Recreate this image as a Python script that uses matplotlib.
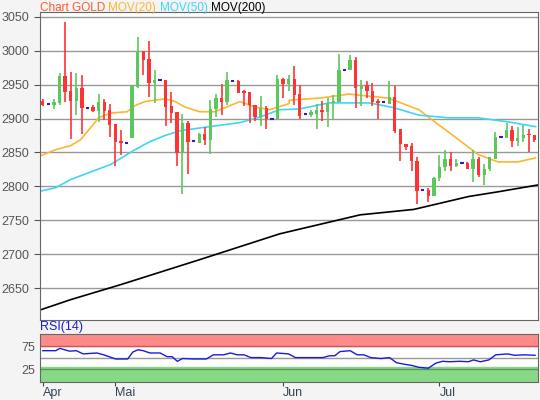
import matplotlib
matplotlib.use("Agg")
import matplotlib.pyplot as plt
import numpy as np

plt.rcParams['font.family'] = ['Liberation Sans', 'DejaVu Sans']

opens  = [2926,2921,2920,2923,2962,2941,2926,2945,2916,2917,2911,2925,2912,2892,2867,2864,2871,2946,3000,2988,2953,2957,2957,
          2918,2909,2849,2893,2867,2864,2877,2868,2914,2930,2924,2956,2956,2940,2939,2920,2902,2915,2900,2900,2958,2951,
          2958,2936,2906,2905,2907,2912,2909,2923,2925,2972,2971,2986,2944,2950,2941,2926,2925,2922,2932,2884,2863,2859,
          2838,2794,2794,2786,2813,2828,2840,2830,2834,2834,2825,2840,2816,2825,2841,2873,2872,2883,2867,2871,2877,2876]
highs  = [2929,2921,2929,2967,3042,2968,2967,2964,2916,2920,2936,2929,2921,2892,2883,2864,2949,3020,3000,3014,2971,2957,2957,
          2939,2909,2907,2896,2867,2878,2887,2928,2936,2951,2969,2956,2957,2942,2939,2920,2933,2918,2900,2964,2959,2964,
          2978,2950,2906,2913,2921,2926,2930,2934,2995,2972,2993,2990,2957,2955,2953,2929,2925,2955,2948,2884,2863,2864,
          2843,2794,2797,2814,2846,2853,2851,2841,2834,2836,2854,2844,2833,2844,2880,2873,2893,2889,2887,2890,2884,2876]
lows   = [2918,2921,2914,2920,2925,2870,2905,2877,2916,2909,2895,2898,2873,2830,2846,2864,2871,2945,2964,2932,2923,2957,2889,
          2894,2830,2788,2818,2867,2864,2861,2848,2902,2905,2920,2956,2938,2918,2893,2896,2889,2884,2900,2900,2930,2941,
          2920,2900,2906,2902,2884,2896,2887,2899,2924,2972,2971,2916,2918,2930,2918,2899,2925,2922,2879,2838,2854,2823,
          2774,2794,2777,2786,2808,2822,2823,2829,2834,2825,2807,2814,2802,2823,2841,2873,2872,2858,2859,2865,2851,2866]
closes = [2920,2921,2924,2962,2939,2926,2945,2916,2916,2911,2925,2911,2891,2865,2864,2864,2948,3000,2986,2953,2957,2957,2917,
          2908,2849,2893,2865,2867,2877,2868,2914,2930,2924,2957,2956,2938,2938,2920,2902,2915,2900,2900,2958,2951,2958,
          2934,2903,2906,2909,2912,2909,2923,2926,2972,2972,2986,2945,2950,2941,2925,2923,2925,2932,2882,2863,2858,2837,
          2793,2794,2786,2812,2828,2840,2830,2834,2834,2825,2840,2816,2826,2843,2873,2873,2883,2867,2871,2876,2876,2868]

month_pos = [0, 13, 43, 71]
month_labels = ["Apr", "Mai", "Jun", "Jul"]

ma20_x = [-0.4,2.3,5,6.8,8.5,10,12.1,15.1,16.5,18.3,21.9,23.7,25.4,28.1,30.8,33.5,35.3,37.9,40.6,44.1,44.1,49.5,54.8,61.9,67.3,70.8,74.4,77.9,81.5,85,88.2]
ma20_y = [2845,2854,2860,2869,2886,2901,2908,2910,2919,2925,2929,2925,2917,2910,2910,2919,2925,2917,2913,2922,2927,2930,2936,2930,2913,2891,2869,2847,2836,2836,2842]
ma50_x = [-0.4,2.3,5,8.5,12.1,16.5,19.2,21.9,24.6,28.1,35.3,38.8,42.4,45.9,51.2,58.4,62.8,67.3,72.6,77.9,83.3,88.2]
ma50_y = [2793,2798,2810,2821,2832,2854,2866,2875,2882,2886,2894,2902,2913,2914,2923,2923,2916,2905,2901,2901,2895,2888]
ma200_x = [-0.4,5,13.9,28.1,42.4,56.8,66.4,76.2,81.5,88.6]
ma200_y = [2618,2633,2655,2692,2730,2758,2766,2785,2792,2802]

rsi_zx = [122,160,172,200,220,240,280,300,335,370,385,400,415,435,465,485,500,515,530,560,600,620,650,670,690,710,730,760,790,805,
          840,860,900,940,960,975,990,1020,1040,1060,1080,1110,1135,1155,1175,1200,1220,1248,1270,1290,1310,1340,1365,1380,1400,1425,1445,1480,1500,1530,1560]
rsi_val = [65,65,70,64,65,58,60,56,47,47,62,67,65,60,60,52,52,42,48,47,47,56,56,60,56,56,50,50,48,60,
           58,50,50,50,54,54,63,65,56,56,50,48,50,39,36,33,29,27,38,42,41,42,41,45,41,45,56,58,55,56,55]

BG = "#f4f4f4"
fig = plt.figure(figsize=(5.4, 4.0), dpi=100, facecolor=BG)
ax = fig.add_axes([0.074, 0.2, 0.922, 0.77])
ax2 = fig.add_axes([0.074, 0.046, 0.922, 0.12])

n = len(opens)
o = np.array(opens); c = np.array(closes); h = np.array(highs); l = np.array(lows)
green, red, blue = "#5cc85c", "#ff3333", "#3a14c8"
for i in range(n):
    if o[i] == c[i] and h[i] == l[i]:
        ax.hlines(o[i], i - 0.3, i + 0.3, color=blue, lw=1.5, zorder=3)
        continue
    col = green if c[i] > o[i] else red
    ax.vlines(i, l[i], h[i], color=col, lw=1.2, zorder=3)
    lo, hi = min(o[i], c[i]), max(o[i], c[i])
    ax.bar(i, max(hi - lo, 1.0), bottom=lo, width=0.6, color=col, zorder=4, linewidth=0)

ax.plot(ma20_x, ma20_y, color="#ffb52e", lw=1.2, zorder=2)
ax.plot(ma50_x, ma50_y, color="#3ed6f5", lw=1.2, zorder=2)
ax.plot(ma200_x, ma200_y, color="black", lw=1.2, zorder=2)

ax.set_xlim(-0.5, 88.6)
ax.set_ylim(2603, 3057)
ax.set_yticks([2650, 2700, 2750, 2800, 2850, 2900, 2950, 3000, 3050])
ax.yaxis.grid(True, color="#999999", lw=1)
ax.set_axisbelow(True)
ax.set_xticks([])
ax.tick_params(axis="y", colors="#555555", labelsize=9, length=4)
for s in ax.spines.values():
    s.set_color("#666666")

fig.canvas.draw()
r = fig.canvas.get_renderer()
xpos = 0.074
for txt, col in [("Chart GOLD", "#ff5a2a"), ("MOV(20)", "#ffb52e"), ("MOV(50)", "#3ed6f5"), ("MOV(200)", "black")]:
    t = fig.text(xpos, 0.996, txt, color=col, fontsize=8.5, va="top")
    bb = t.get_window_extent(renderer=r)
    xpos += bb.width / fig.bbox.width + 0.006

rx = [(zx / 2.904 - 42) / 5.62 for zx in rsi_zx]
ax2.axhspan(75, 102, color="#ff8a8a", zorder=0)
ax2.axhspan(-2, 30, color="#88d888", zorder=0)
for yv, cl in [(75, "#cc5555"), (50, "#999999"), (25, "#559955")]:
    ax2.axhline(yv, color=cl, lw=1, zorder=1)
ax2.plot(rx, rsi_val, color="#1a1ae0", lw=1, zorder=2)
ax2.set_xlim(-0.5, 88.6)
ax2.set_ylim(-2, 102)
ax2.set_yticks([25, 75])
ax2.set_xticks(month_pos)
ax2.set_xticklabels(month_labels)
ax2.tick_params(axis="y", colors="#555555", labelsize=9, length=0)
ax2.tick_params(axis="x", colors="#444444", labelsize=9, length=3, pad=1, labelcolor="#334455")
for lab in ax2.get_xticklabels():
    lab.set_horizontalalignment("left")
for s in ax2.spines.values():
    s.set_color("#666666")
fig.text(0.074, 0.168, "RSI(14)", color="#1a1ae0", fontsize=9, va="bottom")

fig.savefig("out.png", dpi=100, facecolor=BG)
